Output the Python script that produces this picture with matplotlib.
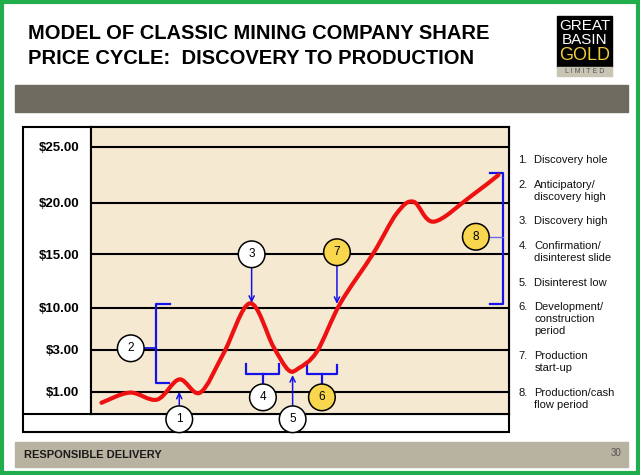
import numpy as np
import matplotlib.pyplot as plt
from matplotlib.patches import Rectangle, PathPatch
from matplotlib.path import Path

plt.rcParams['font.family'] = ['Liberation Sans', 'DejaVu Sans']

# share price cycle (x = progress through the cycle, 0-100; y = share price in $)
cycle_x = [2.5, 9.3, 15.8, 21.1, 26.1, 31.7, 38.0, 43.6, 47.2, 49.6, 54.0, 59.6, 67.5, 73.1, 77.1, 81.9, 90.7, 97.4]
price = [0.51, 0.96, 0.65, 1.59, 0.96, 2.84, 10.41, 3.55, 2.04, 2.12, 2.92, 10.41, 15.1, 18.97, 20.09, 18.16, 20.54, 22.47]

price_ticks = [1, 3, 10, 15, 20, 25]
price_labels = ["$1.00", "$3.00", "$10.00", "$15.00", "$20.00", "$25.00"]

stages = ["Discovery hole", "Anticipatory/\ndiscovery high", "Discovery high",
          "Confirmation/\ndisinterest slide", "Disinterest low",
          "Development/\nconstruction\nperiod", "Production\nstart-up",
          "Production/cash\nflow period"]

BLUE = '#1414e8'
YELLOW = '#f8d64e'
BEIGE = '#f6e9d2'

# the price axis of the slide is not linear: piecewise spacing of the levels
scale_price = [-2, 0, 1, 3, 10, 15, 20, 25, 30]
scale_pos = [-45.2, 0, 22.6, 64.3, 106.6, 160.0, 211.6, 267.6, 323.6]


def fwd(v):
    return np.interp(v, scale_price, scale_pos)


def inv(v):
    return np.interp(v, scale_pos, scale_price)


fig = plt.figure(figsize=(6.4, 4.75), dpi=100)

# slide decoration in pixel coordinates
bg = fig.add_axes([0, 0, 1, 1])
bg.set_xlim(0, 640)
bg.set_ylim(475, 0)
bg.axis('off')

bg.add_patch(Rectangle((2, 2), 635.5, 471, fill=False, ec='#22ad4c', lw=3))
bg.add_patch(Rectangle((15, 85), 612.7, 26.7, color='#6e6c60'))
bg.add_patch(Rectangle((15, 442.3), 612.7, 24.4, color='#b8b2a0'))

bg.text(28, 39, "MODEL OF CLASSIC MINING COMPANY SHARE", fontsize=14.5, fontweight='bold', va='baseline')
bg.text(28, 64.5, "PRICE CYCLE:  DISCOVERY TO PRODUCTION", fontsize=14.5, fontweight='bold', va='baseline')

# logo
bg.add_patch(Rectangle((557.3, 16), 54.4, 50.7, color='black'))
bg.add_patch(Rectangle((557.3, 66.7), 54.4, 9.3, color='#c9c5b5'))
bg.text(584.5, 26.5, "GREAT", color='white', fontsize=11, ha='center', va='center')
bg.text(584.5, 39.5, "BASIN", color='white', fontsize=11, ha='center', va='center')
bg.text(584.5, 56, "GOLD", color='#eccb3b', fontsize=13, ha='center', va='center')
bg.text(584.5, 71.5, "L I M I T E D", color='#555555', fontsize=5, ha='center', va='center')

# table frame around the chart
bg.add_patch(Rectangle((23, 126.7), 486.3, 305.6, fill=False, ec='black', lw=1.5))
bg.plot([23, 509.3], [414.3, 414.3], color='black', lw=1.5)
bg.plot([91, 91], [126.7, 414.3], color='black', lw=1.5)

# legend list
line_y = [159.3, 184.3, 220.3, 245.3, 282.3, 305.7, 355.3, 392.3]
for i, (txt, yy) in enumerate(zip(stages, line_y)):
    bg.text(518.3, yy - 4, f"{i + 1}.", fontsize=8, va='top', color='#111111')
    bg.text(534.3, yy - 4, txt, fontsize=8, va='top', linespacing=1.25, color='#111111')

bg.text(24, 455, "RESPONSIBLE DELIVERY", fontsize=8, fontweight='bold', va='center', color='#1a1a1a')
bg.text(616, 452.7, "30", fontsize=7, ha='center', va='center', color='#555555')

# chart
ax = fig.add_axes([91 / 640, (475 - 414.3) / 475, (509.3 - 91) / 640, (414.3 - 126.7) / 475])
ax.set_facecolor(BEIGE)
ax.set_yscale('function', functions=(fwd, inv))
ax.set_xlim(0, 100)
ax.set_ylim(0, float(inv(287.6)))
ax.set_xticks([])
ax.set_yticks(price_ticks, price_labels, fontsize=9.5, fontweight='bold')
ax.tick_params(axis='y', length=0, pad=8.5)
ax.yaxis.grid(True, color='black', lw=1.5)
ax.set_axisbelow(True)
for s in ax.spines.values():
    s.set_linewidth(1.5)

# smooth red curve through the read points (Catmull-Rom as Bezier segments)
P = np.column_stack([np.array(cycle_x) * 4.18, fwd(np.array(price))])
P = np.vstack([P[0], P, P[-1]])
verts = [P[1]]
codes = [Path.MOVETO]
for i in range(1, len(P) - 2):
    p0, p1, p2, p3 = P[i - 1], P[i], P[i + 1], P[i + 2]
    verts += [p1 + (p2 - p0) / 6, p2 - (p3 - p1) / 6, p2]
    codes += [Path.CURVE4] * 3
verts = np.array(verts)
verts = np.column_stack([verts[:, 0] / 4.18, inv(verts[:, 1])])
ax.add_patch(PathPatch(Path(verts, codes), fill=False, ec='#ee1111', lw=3,
                       capstyle='round', joinstyle='round', zorder=2.6))

circ = dict(fontsize=8.5, ha='center', va='center', zorder=4)


def bubble(fc):
    return dict(boxstyle='circle,pad=0.62', fc=fc, ec='black', lw=1.1)


arrow = dict(arrowstyle='->,head_length=0.45,head_width=0.22', color=BLUE, lw=1.1,
             shrinkA=0, shrinkB=0)

# arrows to points on the curve
ax.annotate("1", xy=(21.1, 1.0), xytext=(21.1, -0.22), bbox=bubble('white'),
            arrowprops=arrow, annotation_clip=False, **circ)
ax.annotate("3", xy=(38.4, 10.45), xytext=(38.4, 15.0), bbox=bubble('white'),
            arrowprops=arrow, annotation_clip=False, **circ)
ax.annotate("5", xy=(48.2, 1.8), xytext=(48.2, -0.22), bbox=bubble('white'),
            arrowprops=arrow, annotation_clip=False, **circ)
ax.annotate("7", xy=(58.8, 10.35), xytext=(58.8, 15.2), bbox=bubble(YELLOW),
            arrowprops=arrow, annotation_clip=False, **circ)

# bracket 2
ax.plot([18.9, 15.55, 15.55, 18.7], [10.35, 10.35, 1.4, 1.4], color=BLUE, lw=1.6, clip_on=False)
ax.plot([9.5, 15.55], [3.28, 3.28], color=BLUE, lw=1.3, zorder=2.7)
ax.text(9.5, 3.28, "2", bbox=bubble('white'), **circ)

# brackets 4 and 6
ax.plot([37.0, 37.0, 45.0, 45.0], [2.31, 1.85, 1.85, 2.31], color=BLUE, lw=1.6)
ax.plot([41.1, 41.1], [1.85, 0.75], color=BLUE, lw=1.6, zorder=2.7)
ax.text(41.1, 0.75, "4", bbox=bubble('white'), **circ)
ax.plot([51.6, 51.6, 58.8, 58.8], [2.27, 1.85, 1.85, 2.27], color=BLUE, lw=1.6)
ax.plot([55.2, 55.2], [1.85, 0.75], color=BLUE, lw=1.6, zorder=2.7)
ax.text(55.2, 0.75, "6", bbox=bubble(YELLOW), **circ)

# bracket 8
ax.plot([95.45, 98.5, 98.5, 95.45], [22.68, 22.68, 10.37, 10.37], color=BLUE, lw=1.6, clip_on=False)
ax.plot([92.0, 98.5], [16.7, 16.7], color='#6a6aee', lw=1, zorder=2.7)
ax.text(92.0, 16.7, "8", bbox=bubble(YELLOW), **circ)

fig.savefig("out.png", dpi=100)
